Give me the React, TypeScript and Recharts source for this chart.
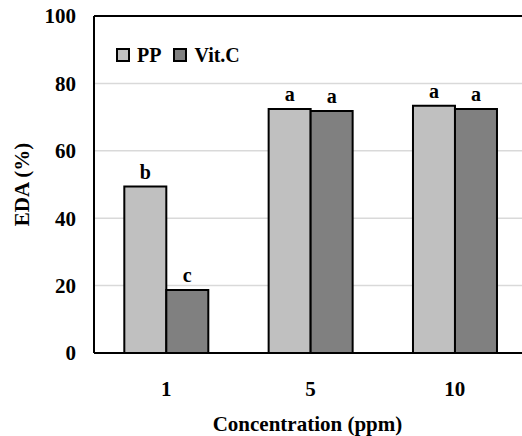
import React from 'react';
import { BarChart, Bar, XAxis, YAxis, CartesianGrid, ReferenceLine, LabelList, Legend } from 'recharts';

const categories = ['1', '5', '10'];
const ppValues = [49.4, 72.4, 73.4];
const vitcValues = [18.7, 71.8, 72.4];
const ppLetters = ['b', 'a', 'a'];
const vitcLetters = ['c', 'a', 'a'];
const yTicks = [0, 20, 40, 60, 80, 100];

const data = categories.map((c, i) => ({
  conc: c,
  PP: ppValues[i],
  VitC: vitcValues[i],
  ppL: ppLetters[i],
  vcL: vitcLetters[i],
}));

const FONT = 'Liberation Serif';
const textStyle = { fill: '#000', fontSize: 21, fontWeight: 'bold' as const, fontFamily: FONT };
const labelStyle = { fill: '#000', fontSize: 20, fontWeight: 'bold' as const, fontFamily: FONT };

const renderLegend = (props: any) => {
  const { payload } = props;
  return (
    <div style={{ display: 'flex', alignItems: 'center', fontFamily: FONT, fontWeight: 'bold', fontSize: 20, color: '#000' }}>
      {payload.map((p: any, i: number) => (
        <div key={i} style={{ display: 'flex', alignItems: 'center', marginRight: 12 }}>
          <span style={{ display: 'inline-block', width: 10, height: 10, background: p.color, border: '2px solid #000', marginRight: 7 }} />
          <span style={{ lineHeight: '20px' }}>{p.value}</span>
        </div>
      ))}
    </div>
  );
};

export default function App() {
  return (
    <div style={{ position: 'absolute', left: 0, top: 0, width: 522, height: 436, background: '#fff', fontFamily: FONT }}>
      <BarChart
        width={522}
        height={436}
        data={data}
        margin={{ top: 16, right: -5, left: 0, bottom: 0 }}
        barCategoryGap="21%"
        barGap={0}
        style={{ fontFamily: FONT }}
      >
        <CartesianGrid horizontal vertical={false} stroke="#d9d9d9" strokeWidth={1.5} />
        <XAxis
          dataKey="conc"
          height={83}
          tickLine={false}
          tickSize={0}
          tickMargin={28}
          axisLine={{ stroke: '#000', strokeWidth: 2 }}
          tick={textStyle}
          label={{ value: 'Concentration (ppm)', position: 'insideBottom', offset: 5, dx: -3, style: textStyle }}
        />
        <YAxis
          width={94}
          domain={[0, 100]}
          ticks={yTicks}
          interval={0}
          tickLine={false}
          tickSize={0}
          tickMargin={18}
          axisLine={{ stroke: '#000', strokeWidth: 2 }}
          tick={textStyle}
          label={{ value: 'EDA (%)', angle: -90, position: 'insideLeft', offset: 22, style: { ...textStyle, textAnchor: 'middle' } }}
        />
        <ReferenceLine y={100} stroke="#000" strokeWidth={2} />
        <Legend
          layout="horizontal"
          verticalAlign="middle"
          align="center"
          content={renderLegend}
          wrapperStyle={{ left: 116, top: 45, width: 'auto', height: 'auto' }}
        />
        <Bar dataKey="PP" name="PP" fill="#c0c0c0" stroke="#000" strokeWidth={2} isAnimationActive={false}>
          <LabelList dataKey="ppL" position="top" offset={8} style={labelStyle} />
        </Bar>
        <Bar dataKey="VitC" name="Vit.C" fill="#808080" stroke="#000" strokeWidth={2} isAnimationActive={false}>
          <LabelList dataKey="vcL" position="top" offset={8} style={labelStyle} />
        </Bar>
      </BarChart>
    </div>
  );
}
